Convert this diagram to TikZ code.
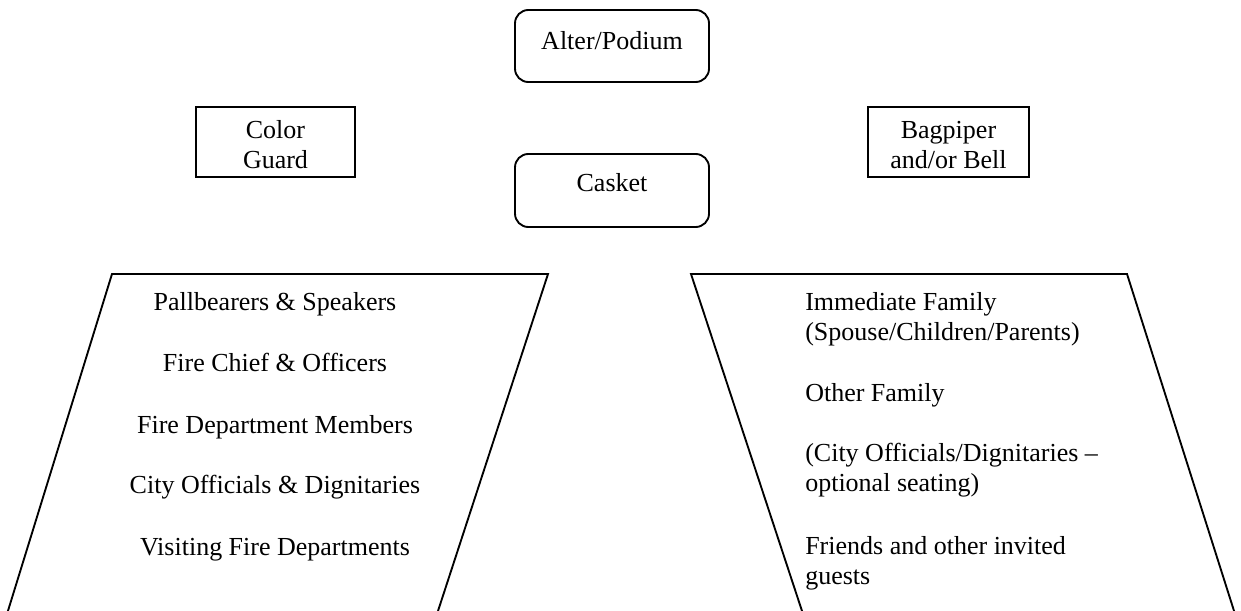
\documentclass[tikz,border=0pt]{standalone}
\usepackage{fontspec}
\setmainfont{Liberation Serif}
\usepackage{xcolor}

\begin{document}
\begin{tikzpicture}[x=0.75pt,y=0.75pt,yscale=-1,xscale=1,
  outline/.style={line width=1.4pt, line join=miter},
  txt/.style={inner sep=0.75pt, font=\fontsize{19.5}{22.5}\selectfont}]
\useasboundingbox (0,0) rectangle (1241,610);

%Shape: Rounded Rect [altar]
\draw [outline, rounded corners=10] (515,10) rectangle (709,82) ;
%Shape: Rounded Rect [casket]
\draw [outline, rounded corners=10] (515,154) rectangle (709,227) ;
%Shape: Rectangle [color guard]
\draw [outline] (196,107) rectangle (355,177) ;
%Shape: Rectangle [bagpiper]
\draw [outline] (868,107) rectangle (1029,177) ;
%Shape: Trapezoid [left seating]
\draw [outline] (7,614) -- (112,274) -- (548,274) -- (437,614) ;
%Shape: Trapezoid [right seating]
\draw [outline] (803,614) -- (691,274) -- (1127,274) -- (1235,614) ;

% Text Node
\draw (612,49.5) node [txt, anchor=base] (altar) {Alter/Podium};
% Text Node
\draw (612,191.5) node [txt, anchor=base] (casket) {Casket};
% Text Node (base = last line)
\draw (275.5,168.5) node [txt, anchor=base, align=center] (guard) {Color\\Guard};
% Text Node (base = last line)
\draw (948.5,168.5) node [txt, anchor=base, align=center] (piper) {Bagpiper\\and/or Bell};

% Text Node
\draw (275,310.5) node [txt, anchor=base] (pall) {Pallbearers \& Speakers};
% Text Node
\draw (275,371.5) node [txt, anchor=base] (chief) {Fire Chief \& Officers};
% Text Node
\draw (275,433.5) node [txt, anchor=base] (members) {Fire Department Members};
% Text Node
\draw (275,493.5) node [txt, anchor=base] (officials) {City Officials \& Dignitaries};
% Text Node
\draw (275,555.5) node [txt, anchor=base] (visiting) {Visiting Fire Departments};

% Text Node
\draw (804,340.5) node [txt, anchor=base west, align=left] (family) {Immediate Family\\(Spouse/Children/Parents)};
% Text Node
\draw (804,401.5) node [txt, anchor=base west, align=left] (other) {Other Family};
% Text Node
\draw (804,491.5) node [txt, anchor=base west, align=left] (optional) {(City Officials/Dignitaries --\\optional seating)};
% Text Node
\draw (804,584.5) node [txt, anchor=base west, align=left] (friends) {Friends and other invited\\guests};

\end{tikzpicture}
\end{document}
